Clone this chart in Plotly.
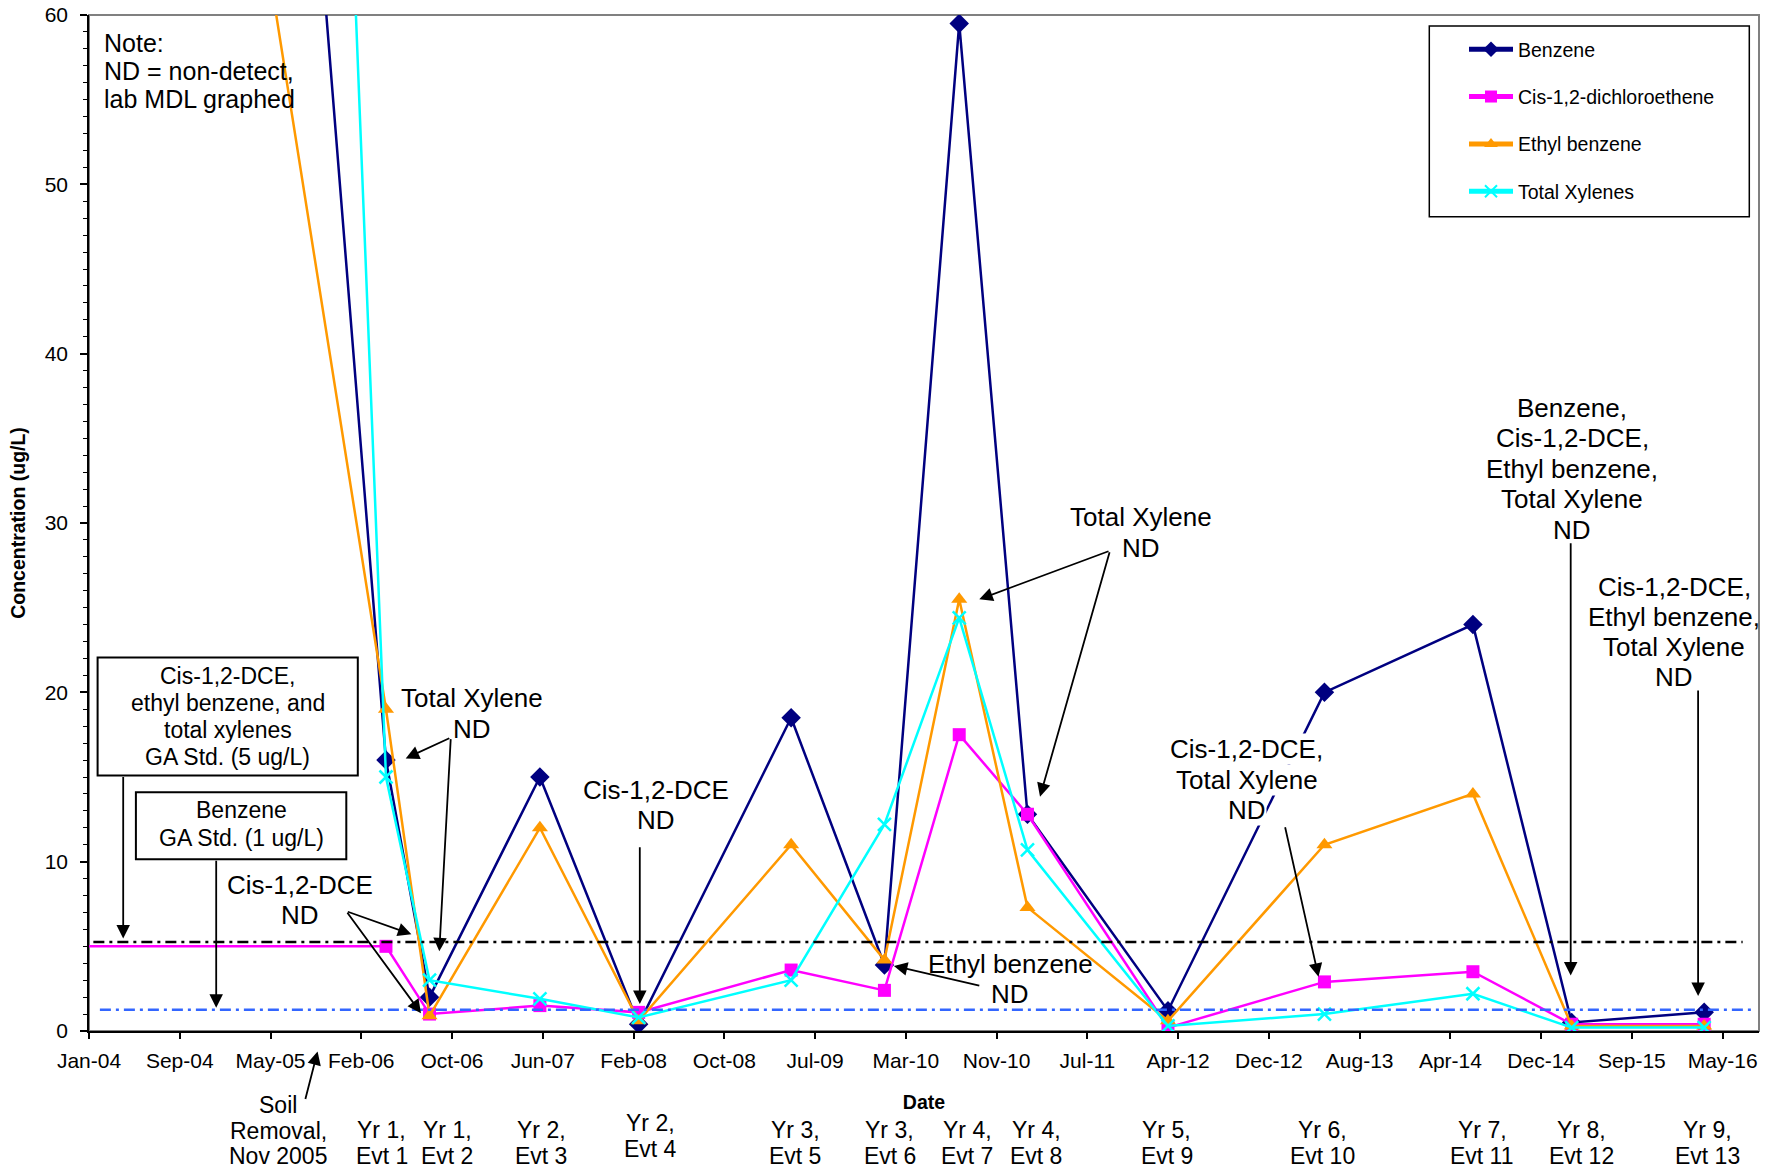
import pandas as pd
import plotly.graph_objects as go

# ---------------------------------------------------------------- data
# First sample predates the plotted window (pre-remediation concentrations).
sample_dates = ["2003-11-01", "2006-04-11", "2006-08-09", "2007-06-09", "2008-03-07",
                "2009-05-01", "2010-01-13", "2010-08-07", "2011-02-11", "2012-03-04",
                "2013-05-09", "2014-06-22", "2015-03-21", "2016-03-20"]
benzene = [255, 16, 2, 15, 0.4, 18.5, 3.9, 59.5, 12.8, 1.2, 20, 24, 0.5, 1.1]
cis_dce = [5, 5, 1, 1.5, 1.1, 3.6, 2.4, 17.5, 12.8, 0.2, 2.9, 3.5, 0.4, 0.4]
ethylbenzene = [140, 19, 0.9, 12, 0.6, 11, 4.2, 25.5, 7.3, 0.6, 11, 14, 0.3, 0.3]
total_xylenes = [500, 15, 3, 1.9, 0.8, 3, 12.2, 24.4, 10.7, 0.3, 1, 2.2, 0.2, 0.2]
series_names = ["Benzene", "Cis-1,2-dichloroethene", "Ethyl benzene", "Total Xylenes"]

# Georgia groundwater standards (ug/L) and the span of the reference lines
ga_std_others = 5
ga_std_benzene = 1
std_others_span = ["2004-01-26", "2016-07-04"]
std_benzene_span = ["2004-02-13", "2016-07-27"]

event_labels = ["Yr 1,|Evt 1", "Yr 1,|Evt 2", "Yr 2,|Evt 3", "Yr 2,|Evt 4", "Yr 3,|Evt 5",
                "Yr 3,|Evt 6", "Yr 4,|Evt 7", "Yr 4,|Evt 8", "Yr 5,|Evt 9", "Yr 6,|Evt 10",
                "Yr 7,|Evt 11", "Yr 8,|Evt 12", "Yr 9,|Evt 13"]

# ---------------------------------------------------------------- layout helpers
FONT = "Liberation Sans, Arial, sans-serif"
W, H = 1770, 1172
M_L, M_R, M_T, M_B = 89, 11, 15, 141
PLOT_W = W - M_L - M_R
PLOT_H = H - M_T - M_B

x_start = pd.Timestamp("2004-01-14")
x_end = x_start + pd.Timedelta(days=4600)
DAY_MS = 86400000


def paper(x, y):
    """Page pixel position -> paper coordinates."""
    return (x - M_L) / PLOT_W, (H - M_B - y) / PLOT_H


fig = go.Figure()

styles = [
    ("#000080", "diamond", 15),
    ("#FF00FF", "square", 13),
    ("#FF9900", "triangle-up", 14),
    ("#00FFFF", "x-thin", 13),
]
for name, vals, (color, symbol, size) in zip(
        series_names, [benzene, cis_dce, ethylbenzene, total_xylenes], styles):
    marker = dict(symbol=symbol, size=size, color=color, line=dict(width=0, color=color))
    if symbol == "x-thin":
        marker["line"] = dict(width=2.5, color=color)
    fig.add_trace(go.Scatter(
        x=sample_dates, y=vals, name=name, mode="lines+markers",
        line=dict(color=color, width=2.5), marker=marker, legendgroup=name))

# Standard lines, lifted a touch so they stay visible over ND data at the same level
STD_LIFT = 0.25
for val, span, color in [(ga_std_others, std_others_span, "#000000"),
                         (ga_std_benzene, std_benzene_span, "#3366FF")]:
    fig.add_trace(go.Scatter(
        x=span, y=[val + STD_LIFT] * 2, mode="lines", showlegend=False,
        line=dict(color=color, width=2.5, dash="11px,5px,3px,5px"), hoverinfo="skip"))


def add_text(lines, cx, cy, step, size, anchor="center", bg=None):
    for i, line in enumerate(lines):
        xp, yp = paper(cx, cy + i * step)
        kw = dict(bgcolor=bg) if bg else {}
        fig.add_annotation(x=xp, y=yp, xref="paper", yref="paper", text=line,
                           showarrow=False, xanchor=anchor, yanchor="middle",
                           font=dict(size=size, color="black", family=FONT),
                           borderpad=0, **kw)


def add_arrow(tail, tip):
    xp, yp = paper(*tip)
    fig.add_annotation(x=xp, y=yp, xref="paper", yref="paper", text="",
                       ax=tail[0] - tip[0], ay=tail[1] - tip[1],
                       axref="pixel", ayref="pixel", showarrow=True,
                       arrowhead=2, arrowsize=1.5, arrowwidth=1.8, arrowcolor="black")


def add_box(x0, y0, x1, y1, width=2):
    p0 = paper(x0, y0)
    p1 = paper(x1, y1)
    fig.add_shape(type="rect", xref="paper", yref="paper",
                  x0=p0[0], y0=p0[1], x1=p1[0], y1=p1[1],
                  line=dict(color="black", width=width), fillcolor="white", layer="above")


# plot-area frame
fig.add_shape(type="rect", xref="paper", yref="paper", x0=0, y0=0, x1=1, y1=1,
              line=dict(color="#808080", width=2), layer="below")

# note
add_text(["Note:", "ND = non-detect,", "lab MDL graphed"], 103, 43, 28, 25, anchor="left")

# standards boxes
add_box(97.6, 657.5, 357.8, 775.5)
add_text(["Cis-1,2-DCE,", "ethyl benzene, and", "total xylenes", "GA Std. (5 ug/L)"],
         227.7, 676.4, 27, 23)
add_arrow((123.2, 775.5), (123.2, 938.5))
add_box(135.9, 792.2, 346.3, 859.2)
add_text(["Benzene", "GA Std. (1 ug/L)"], 241, 810.4, 28, 23)
add_arrow((216.2, 859.2), (216.2, 1007.7))

# ND call-outs
add_text(["Total Xylene", "ND"], 472, 698.3, 31, 26)
add_arrow((450.8, 737.6), (405.7, 758.4))
add_arrow((450.8, 737.6), (439.3, 951.3))

add_text(["Cis-1,2-DCE", "ND"], 300, 885, 30, 26)
add_arrow((346.3, 911.2), (411.4, 934.2))
add_arrow((346.3, 911.2), (421, 1013.2))

add_text(["Cis-1,2-DCE", "ND"], 656, 790.2, 30, 26)
add_arrow((639.8, 845.7), (639.8, 1004))

add_text(["Ethyl benzene", "ND"], 1010.3, 964, 29.5, 26)
add_arrow((980.8, 985.9), (893.9, 965.9))

add_text(["Total Xylene", "ND"], 1141.3, 516.7, 31, 26)
add_arrow((1110, 550.7), (979.3, 599.3))
add_arrow((1110, 550.7), (1040, 796.7))

add_text(["Cis-1,2-DCE,", "Total Xylene", "ND"], 1246.5, 749.3, 30.5, 26, bg="white")
add_arrow((1284.8, 825.7), (1318.5, 976.8))

add_text(["Benzene,", "Cis-1,2-DCE,", "Ethyl benzene,", "Total Xylene", "ND"],
         1572.4, 407.5, 30.5, 26)
add_arrow((1570.7, 541.8), (1570.7, 975.5))

add_text(["Cis-1,2-DCE,", "Ethyl benzene,", "Total Xylene", "ND"], 1674.4, 586.5, 30.3, 26)
add_arrow((1698.1, 689), (1698.1, 996))

# soil removal marker below the axis
add_text(["Soil", "Removal,", "Nov 2005"], 278.2, 1105.3, 25.5, 23)
add_arrow((305, 1100.5), (317.6, 1051.4))

# sampling event labels below the axis
event_label_x = [381.5, 447.2, 541, 650.3, 795, 889.6, 967.4, 1036.3, 1166.6,
                 1322.6, 1482.2, 1581.4, 1707]
for lbl, ex in zip(event_labels, event_label_x):
    top = 1123.1 if lbl.endswith("Evt 4") else 1129.7
    add_text(lbl.split("|"), ex, top, 25.8, 23)

# legend frame
add_box(1429.3, 26, 1749.3, 216.7, width=1.5)
lx, ly = paper(1464, 30)

fig.update_layout(
    width=W, height=H,
    margin=dict(l=M_L, r=M_R, t=M_T, b=M_B, autoexpand=False),
    paper_bgcolor="white", plot_bgcolor="white",
    font=dict(family=FONT, color="black"),
    showlegend=True,
    legend=dict(x=lx, y=ly, xanchor="left", yanchor="top",
                bgcolor="rgba(0,0,0,0)", borderwidth=0,
                font=dict(size=19.5, family=FONT, color="black"),
                itemsizing="constant", itemwidth=44, tracegroupgap=19),
    xaxis=dict(
        type="date", range=[x_start, x_end], automargin=False,
        tick0=x_start, dtick=250 * DAY_MS, tickformat="%b-%y",
        ticks="outside", ticklen=6, tickwidth=1.5, tickcolor="black",
        showline=True, linecolor="black", linewidth=1.5, showgrid=False, zeroline=False,
        tickfont=dict(size=21, family=FONT, color="black"), ticklabelstandoff=4,
        title=dict(text="Date", standoff=24,
                   font=dict(size=19.5, family=FONT, color="black", weight="bold")),
    ),
    yaxis=dict(
        range=[0, 60], automargin=False, tick0=0, dtick=10,
        ticks="outside", ticklen=7, tickwidth=1.5, tickcolor="black",
        minor=dict(dtick=1, ticks="outside", ticklen=4, tickwidth=1, tickcolor="black"),
        showline=True, linecolor="black", linewidth=1.5, showgrid=False, zeroline=False,
        tickfont=dict(size=21, family=FONT, color="black"), ticklabelstandoff=8,
        title=dict(text="Concentration (ug/L)", standoff=14,
                   font=dict(size=19.5, family=FONT, color="black", weight="bold")),
    ),
)

fig.write_html("out.html")
